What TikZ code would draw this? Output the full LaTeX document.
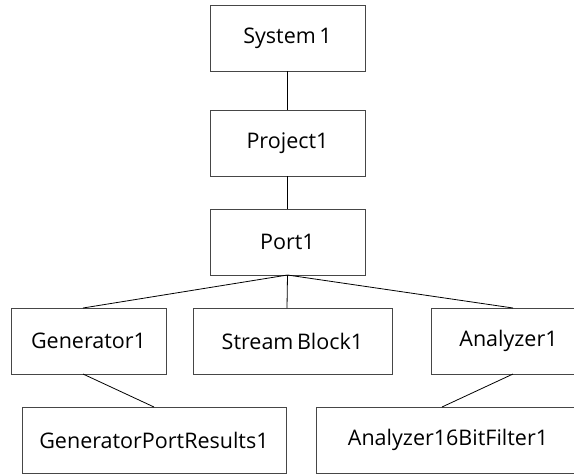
\documentclass[tikz,border=0pt]{standalone}
\usepackage{fontspec}
\setmainfont{Open Sans}
\usetikzlibrary{positioning}
\definecolor{boxborder}{RGB}{70,70,70}
\tikzset{
    item/.style={rectangle, draw=boxborder, line width=0.8pt, outer sep=0pt,
        minimum width=155pt, minimum height=66pt, align=center,
        font=\fontsize{21.5}{25}\selectfont},
    wideitem/.style={item, minimum width=264pt},
    link/.style={draw=black, line width=0.8pt}
}

\begin{document}
\begin{tikzpicture}
    \useasboundingbox (0,0) rectangle (574pt,-475pt);
    \clip (0,0) rectangle (574pt,-475pt);

    \node[item] (sys) at (287.5pt,-38pt) {System\,1};
    \node[item, below=39pt of sys] (proj) {Project1};
    \node[item, below=33pt of proj] (port) {Port1};

    \node[item, minimum width=199pt, below=33pt of port, xshift=5pt] (stream) {Stream\,Block1};
    \node[item, left=27pt of stream] (gen) {Generator1};
    \node[item, right=39pt of stream] (ana) {Analyzer1};

    \node[wideitem, below=33pt of gen, xshift=65.5pt] (genres) {GeneratorPortResults1};
    \node[wideitem, below=33pt of ana, xshift=-60.5pt] (filter) {Analyzer16BitFilter1};

    \draw[link] (sys) -- (proj);
    \draw[link] (proj) -- (port);
    \draw[link] (port.south) -- ([xshift=-5.5pt]gen.north);
    \draw[link] (port.south) -- ([xshift=-5.5pt]stream.north);
    \draw[link] (port.south) -- ([xshift=4.5pt]ana.north);
    \draw[link] ([xshift=-5.5pt]gen.south) -- (genres.north);
    \draw[link] ([xshift=4.5pt]ana.south) -- ([xshift=-6pt]filter.north);

\end{tikzpicture}
\end{document}
